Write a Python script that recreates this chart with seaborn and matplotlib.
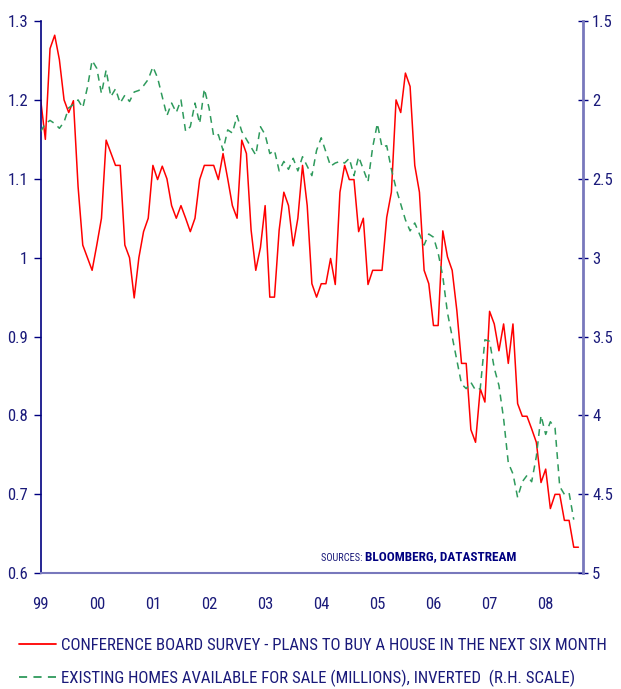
import numpy as np
import pandas as pd
import matplotlib.pyplot as plt
import seaborn as sns
from matplotlib.lines import Line2D
from matplotlib import font_manager

# monthly, Jan 1999 onwards
plans_to_buy = [
    1.20, 1.15, 1.265, 1.282, 1.251, 1.20, 1.184, 1.199, 1.09, 1.016, 1.00, 0.984,
    1.016, 1.05, 1.149, 1.133, 1.117, 1.117, 1.016, 1.00, 0.949, 1.00, 1.033, 1.05,
    1.117, 1.099, 1.116, 1.10, 1.066, 1.05, 1.066, 1.05, 1.033, 1.05, 1.099, 1.117,
    1.117, 1.117, 1.099, 1.132, 1.10, 1.066, 1.05, 1.149, 1.132, 1.035, 0.984, 1.013,
    1.066, 0.95, 0.95, 1.035, 1.083, 1.066, 1.015, 1.05, 1.117, 1.066, 0.967, 0.95,
    0.967, 0.967, 0.999, 0.966, 1.083, 1.117, 1.099, 1.099, 1.033, 1.05, 0.966, 0.984,
    0.984, 0.984, 1.051, 1.083, 1.20, 1.184, 1.234, 1.217, 1.117, 1.083, 0.984, 0.967,
    0.914, 0.914, 1.034, 1.001, 0.984, 0.933, 0.866, 0.866, 0.782, 0.766, 0.834, 0.817,
    0.932, 0.916, 0.882, 0.916, 0.866, 0.916, 0.815, 0.799, 0.799, 0.783, 0.766, 0.715,
    0.732, 0.682, 0.70, 0.70, 0.667, 0.667, 0.633, 0.633,
]

homes_for_sale = [
    2.20, 2.15, 2.13, 2.15, 2.18, 2.14, 2.05, 2.03, 2.00, 2.05, 1.92, 1.75,
    1.80, 1.96, 1.81, 1.98, 1.93, 2.02, 1.97, 2.01, 1.95, 1.94, 1.91, 1.87,
    1.79, 1.86, 1.98, 2.10, 2.02, 2.08, 2.00, 2.20, 2.17, 2.02, 2.15, 1.93,
    2.05, 2.23, 2.22, 2.32, 2.19, 2.21, 2.10, 2.20, 2.25, 2.30, 2.35, 2.17,
    2.22, 2.34, 2.32, 2.45, 2.39, 2.44, 2.37, 2.45, 2.36, 2.42, 2.48, 2.32,
    2.24, 2.33, 2.42, 2.40, 2.39, 2.40, 2.37, 2.48, 2.36, 2.44, 2.52, 2.30,
    2.15, 2.30, 2.29, 2.44, 2.56, 2.66, 2.76, 2.83, 2.78, 2.85, 2.92, 2.85,
    2.87, 2.97, 3.12, 3.35, 3.50, 3.65, 3.80, 3.83, 3.79, 3.84, 3.83, 3.52,
    3.53, 3.70, 3.81, 4.02, 4.30, 4.37, 4.52, 4.42, 4.38, 4.42, 4.26, 4.00,
    4.12, 4.04, 4.08, 4.45, 4.50, 4.49, 4.66,
]

years = list(range(1999, 2009))
year_labels = ['99', '00', '01', '02', '03', '04', '05', '06', '07', '08']
left_ticks = [0.6, 0.7, 0.8, 0.9, 1.0, 1.1, 1.2, 1.3]
left_labels = ['0.6', '0.7', '0.8', '0.9', '1', '1.1', '1.2', '1.3']
right_ticks = [1.5, 2, 2.5, 3, 3.5, 4, 4.5, 5]
right_labels = ['1.5', '2', '2.5', '3', '3.5', '4', '4.5', '5']

label_red = 'CONFERENCE BOARD SURVEY - PLANS TO BUY A HOUSE IN THE NEXT SIX MONTH'
label_green = 'EXISTING HOMES AVAILABLE FOR SALE (MILLIONS), INVERTED  (R.H. SCALE)'

df_red = pd.DataFrame({'t': 1999 + np.arange(len(plans_to_buy)) / 12, 'v': plans_to_buy})
df_green = pd.DataFrame({'t': 1999 + np.arange(len(homes_for_sale)) / 12, 'v': homes_for_sale})

sns.set_style('white')

# the original uses a narrow font; use one if there is one, else shrink
names = {f.name for f in font_manager.fontManager.ttflist}
narrow = None
for cand in ['Liberation Sans Narrow', 'Arial Narrow', 'Roboto Condensed',
             'DejaVu Sans Condensed', 'Open Sans Condensed']:
    if cand in names:
        narrow = cand
        break
if narrow:
    plt.rcParams['font.family'] = [narrow, 'DejaVu Sans']
    fs_tick, fs_leg, fs_src, fs_src_b = 12, 12.1, 7.5, 9.5
else:
    plt.rcParams['font.family'] = ['Liberation Sans', 'DejaVu Sans']
    fs_tick, fs_leg, fs_src, fs_src_b = 11.5, 10.2, 6.5, 7.6

navy = '#000080'
txt = '#1a1a7a'
pale = '#7878bc'
red = '#ff0000'
green = '#2e9a5c'

fig = plt.figure(figsize=(6.21, 6.89), dpi=100)
ax = fig.add_axes([0.0655, 0.168, 0.8735, 0.8015])
ax2 = ax.twinx()

sns.lineplot(data=df_red, x='t', y='v', ax=ax, color=red, linewidth=1.1)
sns.lineplot(data=df_green, x='t', y='v', ax=ax2, color=green, linewidth=1.1,
             linestyle=(0, (4.5, 3.5)))

ax.set_xlim(1999, 2008.667)
ax.set_ylim(0.6, 1.3)
ax2.set_ylim(5, 1.5)

ax.set_xticks(years)
ax.set_xticklabels(year_labels)
ax.set_yticks(left_ticks)
ax.set_yticklabels(left_labels)
ax2.set_yticks(right_ticks)
ax2.set_yticklabels(right_labels)

for a in (ax, ax2):
    a.set_xlabel('')
    a.set_ylabel('')
    a.grid(False)
    a.spines['top'].set_visible(False)

ax.spines['right'].set_visible(False)
ax.spines['left'].set_color(navy)
ax.spines['left'].set_linewidth(1.2)
ax.spines['bottom'].set_color(pale)
ax.spines['bottom'].set_linewidth(1.5)
ax2.spines['left'].set_visible(False)
ax2.spines['bottom'].set_visible(False)
ax2.spines['right'].set_color(pale)
ax2.spines['right'].set_linewidth(2)

ax.tick_params(axis='y', direction='out', length=5, width=1, color=navy,
               labelcolor=txt, labelsize=fs_tick, pad=4)
ax.tick_params(axis='x', direction='out', length=5, width=1, color=navy,
               labelcolor=txt, labelsize=fs_tick, pad=12)
ax2.tick_params(axis='y', direction='inout', length=7, width=1, color=navy,
                labelcolor=txt, labelsize=fs_tick, pad=3)

fig.text(365 / 621, 1 - 558 / 689, 'SOURCES: ', color=txt, fontsize=fs_src,
         ha='right', va='center')
fig.text(365 / 621, 1 - 557 / 689, 'BLOOMBERG, DATASTREAM', color=navy,
         fontsize=fs_src_b, fontweight='bold', ha='left', va='center')

handles = [Line2D([], [], color=red, linewidth=1.3),
           Line2D([], [], color=green, linewidth=1.3, linestyle=(0, (4.5, 3.5)))]
fig.legend(handles, [label_red, label_green], loc='lower left',
           bbox_to_anchor=(16 / 621, -1 / 689), frameon=False, fontsize=fs_leg,
           labelcolor=txt, handlelength=2.2, handletextpad=0.25,
           labelspacing=0.97, borderaxespad=0, borderpad=0.2)

fig.savefig('out.png', dpi=100)
